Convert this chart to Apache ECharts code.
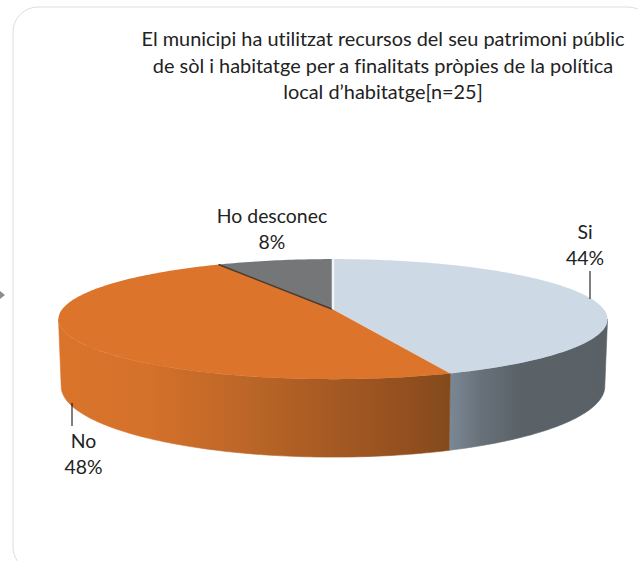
<!DOCTYPE html>
<html>
<head>
<meta charset="utf-8">
<style>html,body{margin:0;padding:0;background:#fff}#main{width:638px;height:561px;font-variant-ligatures:none}</style>
<script src="https://cdn.jsdelivr.net/npm/echarts@6/dist/echarts.min.js"></script>
</head>
<body>
<div id="main"></div>
<script>
// data
const titleText = "El municipi ha utilitzat recursos del seu patrimoni públic\nde sòl i habitatge per a finalitats pròpies de la política\nlocal d’habitatge[n=25]";
const categories = ['Si', 'No', 'Ho desconec'];
const counts = [11, 12, 2];

// look of each slice
const topColors = ['#CDD9E5', '#DC752B', '#757678'];
const wallStops = [
    [[0, '#7B8895'], [0.2, '#68717A'], [0.45, '#5A6268'], [1, '#596167']],
    [[0, '#DA742B'], [0.23, '#D4712A'], [0.48, '#BC6628'], [0.66, '#A95C23'], [0.87, '#955020'], [1, '#834A1C']],
    [[0, '#666666'], [1, '#666666']]
];
// colour of the line along the first and last edge of a slice
const edgeColors = [[null, null], [null, null], ['#4A3A30', '#F2F4F6']];
// label centre and leader line for each slice [x, y, x1, y1, x2, y2]
const labelPos = [
    [585, 244.5, 590, 271, 590, 299],
    [83.5, 453, 72, 403, 72, 426],
    [272, 228]
];

// pie projection, a circle seen in perspective
const cx = 333, cy = 309.5, rx = 271, ry = 58.5, depth = 65.5, persp = 0.16;
const total = counts.reduce((a, b) => a + b, 0);

function project(deg, bottom) {
    let t = deg * Math.PI / 180;
    let s = 1 / (1 + persp * Math.cos(t));
    let x = rx * Math.sin(t) * s * (bottom ? 0.99 : 1);
    let y = -ry * Math.cos(t) * s + (bottom ? depth * s : 0);
    return [cx + x, cy + y];
}

function arc(a, b, bottom) {
    let pts = [];
    let n = Math.max(2, Math.ceil(Math.abs(b - a)));
    for (let i = 0; i <= n; i++) {
        pts.push(project(a + (b - a) * i / n, bottom));
    }
    return pts;
}

function edgeLine(deg, color, width) {
    let p = project(deg, false);
    return {
        type: 'line',
        shape: {x1: cx, y1: cy, x2: p[0], y2: p[1]},
        style: {stroke: color, lineWidth: width}
    };
}

function renderSlice(params, api) {
    let i = params.dataIndex;
    let before = 0;
    for (let k = 0; k < i; k++) before += counts[k];
    let start = before / total * 360;
    let end = start + api.value(0) / total * 360;
    let children = [];

    // only the front of the rim can be seen
    let vis = Math.acos(-persp) * 180 / Math.PI;
    let a = Math.max(start, vis), b = Math.min(end, 360 - vis);
    if (b > a) {
        let grad = new echarts.graphic.LinearGradient(0, 0, 1, 0, wallStops[i].map(s => ({offset: s[0], color: s[1]})));
        children.push({
            type: 'polygon',
            shape: {points: arc(a, b, false).concat(arc(a, b, true).reverse())},
            style: {fill: grad, stroke: grad, lineWidth: 0.6}
        });
    }
    children.push({
        type: 'polygon',
        shape: {points: [[cx, cy]].concat(arc(start, end, false))},
        style: {fill: topColors[i]}
    });
    if (edgeColors[i][0]) children.push(edgeLine(start, edgeColors[i][0], 1.5));
    if (edgeColors[i][1]) children.push(edgeLine(end, edgeColors[i][1], 2.5));

    let p = labelPos[i];
    if (p.length > 2) {
        children.push({
            type: 'line',
            shape: {x1: p[2], y1: p[3], x2: p[4], y2: p[5]},
            style: {stroke: '#000', lineWidth: 1}
        });
    }
    children.push({
        type: 'text',
        style: {
            x: p[0], y: p[1],
            text: categories[i] + '\n' + Math.round(api.value(0) / total * 100) + '%',
            fill: '#222', font: '19.4px Lato', align: 'center', verticalAlign: 'middle', lineHeight: 26
        }
    });
    return {type: 'group', children: children};
}

let chart = echarts.init(document.getElementById('main'), null, {renderer: 'svg'});
chart.setOption({
    animation: false,
    backgroundColor: '#fff',
    title: {
        text: titleText,
        left: 378, top: 20, textAlign: 'center',
        textStyle: {fontFamily: 'Lato', fontSize: 19.9, fontWeight: 'normal', color: '#222', lineHeight: 26.5}
    },
    graphic: [
        {type: 'rect', z: -1, shape: {x: 13, y: 7, width: 640, height: 565, r: 25}, style: {fill: '#fff', stroke: '#DEDEDE', lineWidth: 1}},
        {type: 'polygon', shape: {points: [[0, 291], [5, 295], [0, 299]]}, style: {fill: '#8c8c8c'}}
    ],
    series: [{
        type: 'custom',
        coordinateSystem: 'none',
        renderItem: renderSlice,
        data: counts.map((v, i) => ({name: categories[i], value: [v]}))
    }]
});
</script>
</body>
</html>
